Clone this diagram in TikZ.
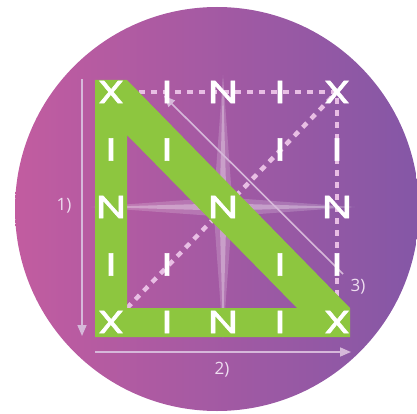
\documentclass[tikz,border=0pt]{standalone}
\usepackage{fontspec}
\usepackage{graphicx}
\newfontfamily\letterfont{Poppins}[FakeBold=1.6]
\newfontfamily\labelfont{Open Sans}
\usetikzlibrary{arrows.meta}
\definecolor{bgL}{RGB}{194,92,160}
\definecolor{bgR}{RGB}{132,87,166}
\definecolor{grn}{RGB}{141,198,63}
\definecolor{dotc}{RGB}{232,190,228}
\definecolor{arrc}{RGB}{214,184,218}
\definecolor{labc}{RGB}{238,222,240}
\newcommand{\wideletter}[1]{\scalebox{1.35}[1]{#1}}
\tikzset{
  letter/.style={text=white,font=\letterfont\fontsize{32}{32}\selectfont,inner sep=0pt,anchor=center},
  dotline/.style={draw=dotc,line width=4.5pt,dash pattern=on 6pt off 6pt},
  arrline/.style={draw=arrc,line width=1.6pt,-{Triangle[length=11pt,width=9pt]}},
  lab/.style={text=labc,font=\labelfont\fontsize{17}{17}\selectfont,inner sep=0pt}
}
\begin{document}
\begin{tikzpicture}[x=1pt,y=-1pt]
\useasboundingbox (0,0) rectangle (417,414);
% background disc with gradient
\begin{scope}
\clip (217,209) circle (202);
\shade[left color=bgL,right color=bgR] (15,5) rectangle (420,414);
\end{scope}
% sparkle
\begin{scope}[shift={(223,207)}]
\fill[white,opacity=0.18] (0,-132) -- (9,-9) -- (132,0) -- (9,9) -- (0,132) -- (-9,9) -- (-132,0) -- (-9,-9) -- cycle;
\fill[white,opacity=0.30] (0,-128) -- (3.5,-3.5) -- (128,0) -- (3.5,3.5) -- (0,128) -- (-3.5,3.5) -- (-128,0) -- (-3.5,-3.5) -- cycle;
\end{scope}
% dotted guides
\coordinate (dTL) at (127,92);
\coordinate (dTR) at (337,92);
\coordinate (dBR) at (337,308);
\coordinate (dBL) at (127,308);
\draw[dotline] (dTL) -- (dTR) -- (dBR);
\draw[dotline] (dBL) -- (dTR);
% arrows
\coordinate (a1s) at (82,79);
\coordinate (a1e) at (82,336);
\coordinate (a2s) at (95,352);
\coordinate (a2e) at (351,352);
\coordinate (a3s) at (343,274);
\coordinate (a3e) at (164,96);
\draw[arrline] (a1s) -- (a1e);
\draw[arrline] (a2s) -- (a2e);
\draw[arrline] (a3s) -- (a3e);
\node[lab] (l1) at (64,206) {1)};
\node[lab] (l2) at (222,370) {2)};
\node[lab] (l3) at (358,287) {3)};
% green triangle band
\fill[grn,even odd rule] (95,80) -- (127,80) -- (350,308) -- (350,337) -- (95,337) -- cycle
  (127,135) -- (127,308) -- (297,308) -- cycle;
% letters
\node[letter] (x00) at (111,92) {\wideletter{X}};
\node[letter] (i01) at (167,92) {\wideletter{I}};
\node[letter] (n02) at (223,92) {\wideletter{N}};
\node[letter] (i03) at (280,92) {\wideletter{I}};
\node[letter] (x04) at (337,92) {\wideletter{X}};
\node[letter] (i10) at (111,149.5) {\wideletter{I}};
\node[letter] (i11) at (167,149.5) {\wideletter{I}};
\node[letter] (i13) at (280,149.5) {\wideletter{I}};
\node[letter] (i14) at (337,149.5) {\wideletter{I}};
\node[letter] (n20) at (111,207) {\wideletter{N}};
\node[letter] (n22) at (223,207) {\wideletter{N}};
\node[letter] (n24) at (337,207) {\wideletter{N}};
\node[letter] (i30) at (111,264.5) {\wideletter{I}};
\node[letter] (i31) at (167,264.5) {\wideletter{I}};
\node[letter] (i33) at (280,264.5) {\wideletter{I}};
\node[letter] (i34) at (337,264.5) {\wideletter{I}};
\node[letter] (x40) at (111,322) {\wideletter{X}};
\node[letter] (i41) at (167,322) {\wideletter{I}};
\node[letter] (n42) at (223,322) {\wideletter{N}};
\node[letter] (i43) at (280,322) {\wideletter{I}};
\node[letter] (x44) at (337,322) {\wideletter{X}};
\end{tikzpicture}
\end{document}
